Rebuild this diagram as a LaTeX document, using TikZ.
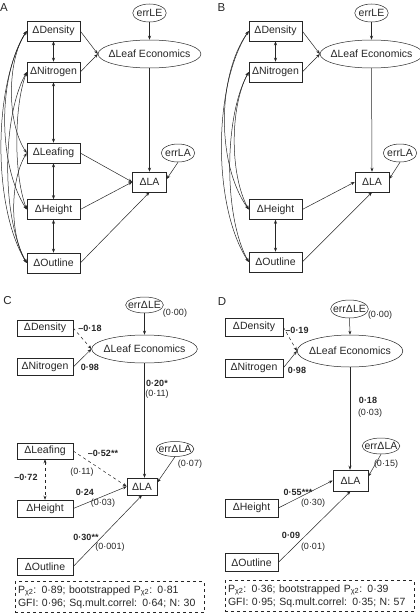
\documentclass[tikz,border=0pt]{standalone}
\usepackage{fontspec}
\setmainfont{Liberation Sans}
\usetikzlibrary{shapes.geometric,arrows.meta}

\newcommand\boxfont{\fontsize{10.5}{12}\selectfont}
\newcommand\coeffont{\fontsize{9}{10}\selectfont}
\newcommand\fitfont{\fontsize{10.5}{13}\selectfont}
\newcommand\panelfont{\fontsize{11.5}{13}\selectfont}

\begin{document}
\begin{tikzpicture}[x=1pt,y=-1pt,
    >={Stealth[length=4pt,width=3pt]},
    line width=0.5pt, color=black!85,
    box/.style={draw, rectangle, inner sep=0pt, minimum width=53pt, minimum height=20pt, font=\boxfont},
    latent/.style={draw, ellipse, inner xsep=-4.5pt, inner ysep=0pt, minimum height=28pt, font=\boxfont},
    err/.style={draw, ellipse, inner xsep=-1pt, inner ysep=0pt, minimum height=18pt, font=\boxfont},
    coef/.style={inner sep=0pt, font=\coeffont\bfseries},
    se/.style={inner sep=0pt, font=\coeffont},
    panel/.style={inner sep=0pt, font=\panelfont},
    fitbox/.style={draw, dashed, align=left, text width=183pt, inner xsep=3pt, minimum height=31pt, font=\fitfont},
  ]
  \useasboundingbox (0,0) rectangle (420,613);

  %% Panel A
  \node[panel] (lblA) at (4,8) {A};
  \node[box] (densA) at (53.5,31) {ΔDensity};
  \node[box] (nitrA) at (53.5,72) {ΔNitrogen};
  \node[box] (leafA) at (53.5,153) {ΔLeafing};
  \node[box] (heigA) at (53.5,209.5) {ΔHeight};
  \node[box] (outlA) at (53.5,263) {ΔOutline};
  \node[latent] (econA) at (149.5,54) {ΔLeaf Economics};
  \node[err] (errleA) at (149.5,13) {errLE};
  \node[box, minimum width=34pt] (laA) at (149.5,182) {ΔLA};
  \node[err] (errlaA) at (178,153) {errLA};
  %% paths
  \draw[->] (densA.east) -- (econA.west);
  \draw[->] (nitrA.east) -- (econA.west);
  \draw[->] (errleA.south) -- (econA.north);
  \draw[->] (econA.south) -- (laA.north);
  \draw[->] (errlaA.south) -- ([yshift=3pt]laA.east);
  \draw[->] (leafA.east) -- (laA.west);
  \draw[->] (heigA.east) -- (laA.west);
  \draw[->] (outlA.east) -- (laA.south);
  %% correlations
  \draw[<->] (densA.south) -- (nitrA.north);
  \draw[<->] (nitrA.south) -- (leafA.north);
  \draw[<->] (leafA.south) -- (heigA.north);
  \draw[<->] (heigA.south) -- (outlA.north);
  \draw[<->] (densA.west) .. controls +(-20,30) and +(-20,-30) .. (leafA.west);
  \draw[<->] (densA.west) .. controls +(-29,45) and +(-29,-45) .. (heigA.west);
  \draw[<->] (densA.west) .. controls +(-34,55) and +(-34,-55) .. (outlA.west);
  \draw[<->] (nitrA.west) .. controls +(-13,35) and +(-13,-35) .. (heigA.west);
  \draw[<->] (nitrA.west) .. controls +(-25,45) and +(-25,-45) .. (outlA.west);
  \draw[<->] (leafA.west) .. controls +(-17,28) and +(-17,-28) .. (outlA.west);

  %% Panel B
  \begin{scope}[xshift=222pt]
    \node[panel] (lblB) at (-0.5,7.5) {B};
    \node[box] (densB) at (53.5,31) {ΔDensity};
    \node[box] (nitrB) at (53.5,72) {ΔNitrogen};
    \node[box] (heigB) at (53.5,209.5) {ΔHeight};
    \node[box] (outlB) at (53.5,262) {ΔOutline};
    \node[latent] (econB) at (149.5,54) {ΔLeaf Economics};
    \node[err] (errleB) at (149.5,13) {errLE};
    \node[box, minimum width=34pt] (laB) at (150,182) {ΔLA};
    \node[err] (errlaB) at (178,153) {errLA};
    %% paths
    \draw[->] (densB.east) -- (econB.west);
    \draw[->] (nitrB.east) -- (econB.west);
    \draw[->] (errleB.south) -- (econB.north);
    \draw[->] (econB.south) -- (laB.north);
    \draw[->] (errlaB.south) -- ([yshift=3pt]laB.east);
    \draw[->] (heigB.east) -- (laB.west);
    \draw[->] (outlB.east) -- (laB.south);
    %% correlations
    \draw[<->] (densB.south) -- (nitrB.north);
    \draw[<->] (heigB.south) -- (outlB.north);
    \draw[<->] (densB.west) .. controls +(-32,45) and +(-32,-45) .. (heigB.west);
    \draw[<->] (densB.west) .. controls +(-36,55) and +(-36,-55) .. (outlB.west);
    \draw[<->] (nitrB.west) .. controls +(-19,35) and +(-19,-35) .. (heigB.west);
    \draw[<->] (nitrB.west) .. controls +(-25,45) and +(-25,-45) .. (outlB.west);
  \end{scope}

  %% Panel C
  \node[panel] (lblC) at (7.5,301) {C};
  \node[box, minimum width=56pt, minimum height=16pt] (densC) at (45,328) {ΔDensity};
  \node[box, minimum width=56pt, minimum height=17pt] (nitrC) at (45,367) {ΔNitrogen};
  \node[latent, inner xsep=-3.5pt] (econC) at (144.5,349) {ΔLeaf Economics};
  \node[err, inner xsep=-3pt, minimum height=16pt] (errleC) at (144.5,305) {errΔLE};
  \node[se] (seLEC) at (175,313) {(0·00)};
  \node[box, minimum width=56pt, minimum height=16pt] (leafC) at (45,451) {ΔLeafing};
  \node[box, minimum width=56pt, minimum height=17pt] (heigC) at (45,508.5) {ΔHeight};
  \node[box, minimum width=56pt, minimum height=17pt] (outlC) at (45,566.5) {ΔOutline};
  \node[box, minimum width=30pt, minimum height=17pt] (laC) at (142,486.5) {ΔLA};
  \node[err, inner xsep=-3pt, minimum height=15pt] (errlaC) at (175,449) {errΔLA};
  \node[se] (seLAC) at (190,464) {(0·07)};
  %% paths
  \draw[->, dashed] (densC.east) -- (econC.west);
  \draw[->] (nitrC.east) -- (econC.west);
  \draw[->] (errleC.south) -- (econC.north);
  \draw[->] (econC.south) -- (econC.south |- laC.north);
  \draw[->] (errlaC.south) -- ([yshift=4pt]laC.east);
  \draw[<->, dashed] (leafC.south) -- (heigC.north);
  \draw[->, dashed] (leafC.east) -- (laC.west);
  \draw[->] (heigC.east) -- (laC.west);
  \draw[->] (outlC.east) -- (laC.south);
  %% coefficients
  \node[coef] (cDensC) at (90,328) {–0·18};
  \node[coef] (cNitrC) at (90,367) {0·98};
  \node[coef] (cEconC) at (157,383) {0·20*};
  \node[se] (sEconC) at (157,394) {(0·11)};
  \node[coef] (cLeafC) at (103,453) {–0·52**};
  \node[se] (sLeafC) at (82,472) {(0·11)};
  \node[coef] (cCorC) at (26,477) {–0·72};
  \node[coef] (cHeigC) at (85,492) {0·24};
  \node[se] (sHeigC) at (103,503) {(0·03)};
  \node[coef] (cOutlC) at (86,537) {0·30**};
  \node[se] (sOutlC) at (110,547) {(0·001)};
  \node[fitbox] (fitC) at (109.5,597) {P\textsubscript{χ2}: 0·89; bootstrapped P\textsubscript{χ2}: 0·81\\GFI: 0·96; Sq.mult.correl: 0·64; N: 30};

  %% Panel D
  \node[panel] (lblD) at (222,302) {D};
  \node[box, minimum width=58pt, minimum height=18pt] (densD) at (254,327) {ΔDensity};
  \node[box, minimum width=58pt, minimum height=18pt] (nitrD) at (254,368) {ΔNitrogen};
  \node[latent, inner xsep=-3.5pt, minimum height=32pt] (econD) at (350,351) {ΔLeaf Economics};
  \node[err, inner xsep=-3pt] (errleD) at (349.5,309) {errΔLE};
  \node[se] (seLED) at (380,315) {(0·00)};
  \node[box, minimum width=53pt, minimum height=18pt] (heigD) at (251.5,508) {ΔHeight};
  \node[box, minimum width=53pt, minimum height=18pt] (outlD) at (251.5,562.5) {ΔOutline};
  \node[box, minimum width=35pt, minimum height=21pt] (laD) at (350.5,480.5) {ΔLA};
  \node[err, inner xsep=-3pt, minimum height=16pt] (errlaD) at (381,446) {errΔLA};
  \node[se] (seLAD) at (386,464) {(0·15)};
  %% paths
  \draw[->, dashed] (densD.east) -- (econD.west);
  \draw[->] (nitrD.east) -- (econD.west);
  \draw[->] (errleD.south) -- (econD.north);
  \draw[->] (econD.south) -- (econD.south |- laD.north);
  \draw[->] (errlaD.south) -- ([yshift=4pt]laD.east);
  \draw[->] (heigD.east) -- (laD.west);
  \draw[->] (outlD.east) -- (laD.south);
  %% coefficients
  \node[coef] (cDensD) at (297,330) {–0·19};
  \node[coef] (cNitrD) at (297,370) {0·98};
  \node[coef] (cEconD) at (368,400) {0·18};
  \node[se] (sEconD) at (370,413) {(0·03)};
  \node[coef] (cHeigD) at (298,492) {0·55***};
  \node[se] (sHeigD) at (313,503) {(0·30)};
  \node[coef] (cOutlD) at (291,535) {0·09};
  \node[se] (sOutlD) at (313,547) {(0·01)};
  \node[fitbox] (fitD) at (319.5,596) {P\textsubscript{χ2}: 0·36; bootstrapped P\textsubscript{χ2}: 0·39\\GFI: 0·95; Sq.mult.correl: 0·35; N: 57};
\end{tikzpicture}
\end{document}
